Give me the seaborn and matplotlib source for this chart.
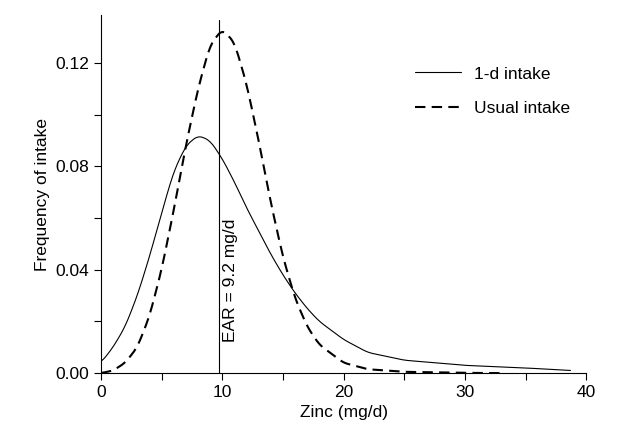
import numpy as np
import pandas as pd
import matplotlib
matplotlib.use('Agg')
import matplotlib.pyplot as plt
import matplotlib.ticker as mtick
import seaborn as sns

sns.set_theme(style='ticks')
plt.rcParams['font.family'] = ['Liberation Sans', 'DejaVu Sans']
plt.rcParams['text.color'] = 'black'
plt.rcParams['axes.labelcolor'] = 'black'
plt.rcParams['xtick.color'] = 'black'
plt.rcParams['ytick.color'] = 'black'

# 1-day intake distribution
x_1d = [0, 1, 2, 3, 4, 5, 6, 7, 8, 9, 10, 11, 12, 13, 14, 15, 16, 17, 18, 20, 22, 25, 30, 35, 38.7]
y_1d = [0.004, 0.010, 0.018, 0.030, 0.045, 0.062, 0.078, 0.088, 0.092, 0.090, 0.083, 0.074, 0.064,
        0.055, 0.046, 0.038, 0.031, 0.025, 0.020, 0.013, 0.008, 0.005, 0.003, 0.002, 0.001]
# usual intake distribution
x_us = [0, 1, 2, 3, 4, 5, 6, 7, 8, 9, 10, 11, 12, 13, 14, 15, 16, 17, 18, 20, 22, 25, 30, 33]
y_us = [0, 0.001, 0.004, 0.010, 0.022, 0.040, 0.063, 0.088, 0.110, 0.127, 0.133, 0.128, 0.112,
        0.090, 0.066, 0.045, 0.029, 0.018, 0.011, 0.004, 0.0015, 0.0005, 0.0001, 0]
ear = 9.7
ear_label = 'EAR = 9.2 mg/d'

def smooth(x, y, n=400):
    xs = np.linspace(min(x), max(x), n)
    ys = np.interp(xs, x, y)
    k = np.ones(9) / 9
    ys2 = np.convolve(np.pad(ys, 4, mode='edge'), k, mode='valid')
    return xs, ys2

fig = plt.figure(figsize=(6.23, 4.4), dpi=100)
ax = fig.add_axes([0.162, 0.152, 0.779, 0.814])

xs, ys = smooth(x_1d, y_1d)
sns.lineplot(x=xs, y=ys, ax=ax, color='black', lw=0.8, label='1-d intake')
xs, ys = smooth(x_us, y_us)
sns.lineplot(x=xs, y=ys, ax=ax, color='black', lw=1.5, ls=(0, (5, 3)), label='Usual intake')
ax.plot([ear, ear], [0, 0.1366], color='black', lw=0.8)
ax.text(ear + 0.4, 0.012, ear_label, rotation=90, fontsize=12.5, ha='left', va='bottom')

ax.set_xlim(0, 40)
ax.set_ylim(0, 0.1386)
ax.set_xticks([0, 10, 20, 30, 40])
ax.set_yticks([0, 0.04, 0.08, 0.12])
ax.xaxis.set_minor_locator(mtick.MultipleLocator(5))
ax.yaxis.set_minor_locator(mtick.MultipleLocator(0.02))
ax.yaxis.set_major_formatter(mtick.FormatStrFormatter('%.2f'))
ax.tick_params(labelsize=12.5, length=5, width=0.8, color='black')
ax.tick_params(which='minor', length=5, width=0.8, color='black')
for s in ['top', 'right']:
    ax.spines[s].set_visible(False)
for s in ['left', 'bottom']:
    ax.spines[s].set_color('black')
    ax.spines[s].set_linewidth(0.8)
ax.set_xlabel('Zinc (mg/d)', fontsize=12.5)
ax.set_ylabel('Frequency of intake', fontsize=12.5)
ax.legend(loc='upper right', bbox_to_anchor=(1.0, 0.9), frameon=False, fontsize=12.5,
          handlelength=2.6, labelspacing=1.1)
fig.savefig('out.png', dpi=100)
